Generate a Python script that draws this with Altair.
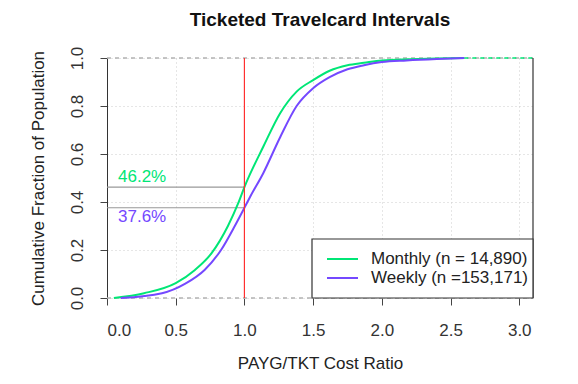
import altair as alt
import pandas as pd

# Monthly ECDF
monthly_x = [0.05, 0.27, 0.5, 0.64, 0.76, 0.88, 0.955, 1.0, 1.137, 1.26, 1.38, 1.50, 1.62, 1.75, 1.87, 2.0, 2.2, 2.4, 2.6]
monthly_y = [0.0, 0.02, 0.062, 0.117, 0.186, 0.30, 0.395, 0.462, 0.63, 0.77, 0.86, 0.908, 0.947, 0.97, 0.98, 0.99, 0.995, 0.998, 1.0]
# Weekly ECDF
weekly_x = [0.1, 0.4, 0.57, 0.71, 0.83, 0.93, 1.0, 1.04, 1.137, 1.26, 1.38, 1.50, 1.62, 1.75, 1.87, 2.0, 2.18, 2.4, 2.6]
weekly_y = [0.0, 0.02, 0.06, 0.117, 0.2, 0.30, 0.376, 0.42, 0.52, 0.67, 0.80, 0.874, 0.92, 0.953, 0.97, 0.983, 0.99, 0.996, 1.0]

series_names = ["Monthly (n = 14,890)", "Weekly (n =153,171)"]
series_colors = ["#00E676", "#7448FF"]
at_one = [0.462, 0.376]
at_one_labels = ["46.2%", "37.6%"]

x_ticks = [0.0, 0.5, 1.0, 1.5, 2.0, 2.5, 3.0]
y_ticks = [0.0, 0.2, 0.4, 0.6, 0.8, 1.0]
x_domain = [0, 3.1]
y_domain = [0, 1]

FONT = "Liberation Sans"
FS = 17
W, H = 426, 240

df = pd.concat([
    pd.DataFrame({"x": monthly_x, "y": monthly_y, "s": series_names[0], "o": range(len(monthly_x))}),
    pd.DataFrame({"x": weekly_x, "y": weekly_y, "s": series_names[1], "o": range(len(weekly_x))}),
])

xs = alt.Scale(domain=x_domain, nice=False, zero=False)
ys = alt.Scale(domain=y_domain, nice=False)

xaxis = alt.Axis(values=x_ticks, format=".1f", grid=True, gridDash=[1, 3], gridColor="#cccccc",
                 domain=False, tickSize=7, tickColor="#444", labelFontSize=FS, labelColor="#333",
                 labelPadding=17, titleFontSize=FS, titleFontWeight="normal", titleColor="#222",
                 titlePadding=17, labelFont=FONT, titleFont=FONT)
yaxis = alt.Axis(values=y_ticks, format=".1f", grid=True, gridDash=[1, 3], gridColor="#cccccc",
                 domain=True, domainColor="#333", tickSize=7, tickColor="#444", labelFontSize=FS,
                 labelColor="#333", labelAngle=270, labelAlign="center", labelBaseline="bottom",
                 labelPadding=14, titleFontSize=FS, titleFontWeight="normal", titleColor="#222",
                 titlePadding=21, labelFont=FONT, titleFont=FONT)

base_x = alt.X("x:Q", scale=xs, axis=xaxis, title="PAYG/TKT Cost Ratio")
base_y = alt.Y("y:Q", scale=ys, axis=yaxis, title="Cumulative Fraction of Population")

grid_layer = alt.Chart(pd.DataFrame({"x": [0.0], "y": [0.0]})).mark_point(opacity=0).encode(x=base_x, y=base_y)

# ends of ECDF lines (horizontal extensions)
dash01 = alt.Chart(pd.DataFrame({"y": [0.0, 1.0]})).mark_rule(color="#b3b3b3", strokeDash=[4, 4], strokeWidth=1.5).encode(
    y=alt.Y("y:Q", scale=ys), x=alt.value(0), x2=alt.value(W))
green_end = alt.Chart(pd.DataFrame({"x": [monthly_x[-1]], "x2": [x_domain[1]], "y": [1.0]})).mark_rule(
    color=series_colors[0], strokeDash=[4, 4], strokeWidth=1.5).encode(
    x=alt.X("x:Q", scale=xs), x2="x2:Q", y=alt.Y("y:Q", scale=ys))

lines = alt.Chart(df).mark_line(strokeWidth=2, interpolate="monotone").encode(
    x=alt.X("x:Q", scale=xs), y=alt.Y("y:Q", scale=ys), order="o:Q",
    color=alt.Color("s:N", scale=alt.Scale(domain=series_names, range=series_colors), legend=None))

hdf = pd.DataFrame({"x": [0.0, 0.0], "x2": [1.0, 1.0], "y": at_one, "lab": at_one_labels, "c": series_colors})
hlines = alt.Chart(hdf).mark_rule(color="#999999", strokeWidth=1.2).encode(
    x=alt.X("x:Q", scale=xs), x2="x2:Q", y=alt.Y("y:Q", scale=ys))
lab_top = alt.Chart(hdf.iloc[[0]]).mark_text(align="left", baseline="bottom", dx=11, dy=-1, fontSize=FS, font=FONT,
                                              color=series_colors[0]).encode(
    x=alt.X("x:Q", scale=xs), y=alt.Y("y:Q", scale=ys), text="lab:N")
lab_bot = alt.Chart(hdf.iloc[[1]]).mark_text(align="left", baseline="top", dx=11, dy=1, fontSize=FS, font=FONT,
                                              color=series_colors[1]).encode(
    x=alt.X("x:Q", scale=xs), y=alt.Y("y:Q", scale=ys), text="lab:N")

vline = alt.Chart(pd.DataFrame({"x": [1.0]})).mark_rule(color="#FF3030", strokeWidth=1.2).encode(
    x=alt.X("x:Q", scale=xs))

right_border = alt.Chart(pd.DataFrame({"x": [x_domain[1]]})).mark_rule(color="#333", strokeWidth=1.2).encode(
    x=alt.X("x:Q", scale=xs), y=alt.value(0), y2=alt.value(H))

# legend box
leg_box = alt.Chart(pd.DataFrame({"a": [0]})).mark_rect(fill="white", stroke="#333", strokeWidth=1.2).encode(
    x=alt.value(205), x2=alt.value(W), y=alt.value(181), y2=alt.value(H))
leg_df = pd.DataFrame({"s": series_names, "c": series_colors, "py": [201, 220]})
leg_lines = alt.Chart(leg_df).mark_rule(strokeWidth=2).encode(
    x=alt.value(220), x2=alt.value(251), y=alt.Y("py:Q", scale=None),
    color=alt.Color("c:N", scale=None))
leg_text = alt.Chart(leg_df).mark_text(align="left", baseline="middle", fontSize=FS, font=FONT, color="#222").encode(
    x=alt.value(264), y=alt.Y("py:Q", scale=None), text="s:N")

chart = alt.layer(grid_layer, dash01, green_end, hlines, lines, vline, right_border, lab_top, lab_bot,
                  leg_box, leg_lines, leg_text).properties(
    width=W, height=H,
    title=alt.TitleParams("Ticketed Travelcard Intervals", fontSize=19, fontWeight="bold", font=FONT,
                          anchor="middle", frame="group", offset=16, color="#111"),
    padding={"left": 99, "top": 50, "right": 20, "bottom": 76},
    autosize=alt.AutoSizeParams(type="none"),
).configure_view(stroke=None)

chart.save("out.html", embed_options={"renderer": "svg", "actions": False})
